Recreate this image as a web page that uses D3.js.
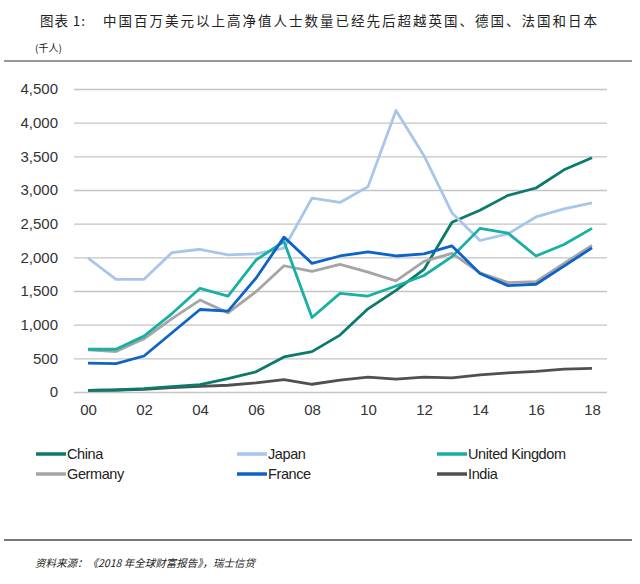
<!DOCTYPE html>
<html><head><meta charset="utf-8">
<script src="https://cdn.jsdelivr.net/npm/d3@7"></script>
<style>
body{margin:0;background:#fff;}
svg{display:block;}
</style></head>
<body><svg id="c" width="640" height="584"></svg>
<script>
const years = d3.range(2000, 2019);
const tickLabels = ["00","02","04","06","08","10","12","14","16","18"];
const yTicks = [0,500,1000,1500,2000,2500,3000,3500,4000,4500];
const china   = [25,30,50,80,110,200,300,520,600,845,1235,1510,1820,2520,2700,2920,3030,3300,3480];
const japan   = [1990,1673,1673,2070,2120,2036,2050,2135,2880,2815,3050,4180,3510,2660,2250,2350,2600,2720,2810];
const uk      = [635,635,830,1165,1540,1425,1960,2235,1107,1465,1425,1575,1730,2010,2430,2360,2020,2190,2430];
const germany = [625,600,790,1090,1365,1175,1490,1875,1790,1895,1780,1650,1940,2060,1770,1625,1640,1910,2175];
const france  = [430,420,535,880,1225,1200,1690,2300,1910,2020,2080,2020,2050,2170,1760,1580,1600,1870,2140];
const india   = [25,30,40,65,85,100,135,185,115,175,220,190,220,210,255,285,305,340,350];
const seriesNames = ["China","Japan","United Kingdom","Germany","France","India"];
const seriesColors = ["#0b7a6b","#a8c5ea","#17b0a2","#a5a5a5","#0e63c9","#505050"];
const seriesData = [china,japan,uk,germany,france,india];

const svg = d3.select("#c");
const cjk = "'Noto Sans CJK SC','Noto Sans',sans-serif";
const latin = "'Liberation Sans',Arial,sans-serif";

svg.append("text").attr("x",40).attr("y",26).attr("font-family",cjk).attr("font-size",13.5)
  .attr("fill","#222").attr("textLength",45).attr("lengthAdjust","spacing").text("图表 1:");
svg.append("text").attr("x",103).attr("y",26).attr("font-family",cjk).attr("font-size",13.5)
  .attr("fill","#222").attr("textLength",494).attr("lengthAdjust","spacing")
  .text("中国百万美元以上高净值人士数量已经先后超越英国、德国、法国和日本");
svg.append("text").attr("x",35).attr("y",52).attr("font-family",cjk).attr("font-size",10)
  .attr("fill","#222").text("(千人)");
svg.append("line").attr("x1",4).attr("x2",632).attr("y1",61).attr("y2",61).attr("stroke","#333").attr("stroke-width",1);
svg.append("line").attr("x1",4).attr("x2",632).attr("y1",540).attr("y2",540).attr("stroke","#777").attr("stroke-width",2);
svg.append("text").attr("x",35).attr("y",567).attr("font-family",cjk).attr("font-size",10.5)
  .attr("font-style","italic").attr("fill","#222").text("资料来源：《2018 年全球财富报告》，瑞士信贷");

const x = d3.scaleLinear().domain([2000,2018]).range([88,592]);
const y = d3.scaleLinear().domain([0,4500]).range([392,89]);

const yAxis = d3.axisLeft(y).tickValues(yTicks).tickSize(-(607-74)).tickPadding(16)
  .tickFormat(d3.format(","));
const gy = svg.append("g").attr("transform","translate(74,0)").call(yAxis);
gy.select(".domain").remove();
gy.selectAll(".tick line").attr("stroke","#c4c4c4").attr("stroke-width",1.3);
gy.selectAll(".tick text").attr("font-family",latin).attr("font-size",15).attr("fill","#333").attr("x",-16);

const xAxis = d3.axisBottom(x).tickValues(d3.range(2000,2019,2)).tickSize(0).tickPadding(12)
  .tickFormat((d,i)=>tickLabels[i]);
const gx = svg.append("g").attr("transform","translate(0,392)").call(xAxis);
gx.select(".domain").remove();
gx.selectAll(".tick text").attr("font-family",latin).attr("font-size",15).attr("fill","#333");

const line = d3.line().x((d,i)=>x(years[i])).y(d=>y(d));
const order = [5,0,3,1,2,4];
order.forEach(k=>{
  svg.append("path").datum(seriesData[k]).attr("d",line).attr("fill","none")
    .attr("stroke",seriesColors[k]).attr("stroke-width",2.8).attr("stroke-linejoin","round");
});

const legX = [36,237,437];
seriesNames.forEach((n,i)=>{
  const lx = legX[i%3], ly = 454 + Math.floor(i/3)*20;
  svg.append("line").attr("x1",lx).attr("x2",lx+30).attr("y1",ly).attr("y2",ly)
    .attr("stroke",seriesColors[i]).attr("stroke-width",3.5);
  svg.append("text").attr("x",lx+31).attr("y",ly+5).attr("font-family",latin).attr("font-size",14.5)
    .attr("fill","#222").attr("letter-spacing",-0.4).text(n);
});
</script></body></html>
